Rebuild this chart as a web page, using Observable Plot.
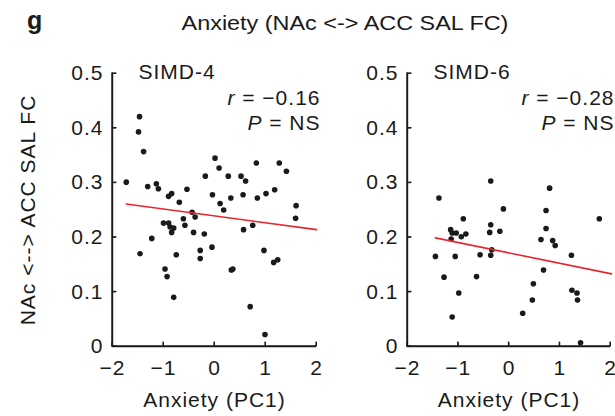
<!DOCTYPE html>
<html>
<head>
<meta charset="utf-8">
<script src="https://cdn.jsdelivr.net/npm/d3@7"></script>
<script src="https://cdn.jsdelivr.net/npm/@observablehq/plot@0.6"></script>
<style>
  html, body { margin: 0; background: #fff; }
  .abs { position: absolute; white-space: nowrap; font-family: "Liberation Sans", Arial, sans-serif; color: #1a1a1a; }
</style>
</head>
<body>
<div id="p2" class="abs" style="left:295px;top:0;width:320px;height:416px"></div>
<div id="p1" class="abs" style="left:0;top:0;width:330px;height:416px"></div>
<div class="abs" style="left:27px;top:6px;font-size:25px;font-weight:bold;">g</div>
<div class="abs" style="left:180px;width:330px;text-align:center;top:12px;font-size:20px;transform:scaleX(1.17);transform-origin:50% 50%;">Anxiety (NAc &lt;-&gt; ACC SAL FC)</div>
<script>
// ---- data ----
const panelNames = ["SIMD-4", "SIMD-6"];
const rValues = ["\u22120.16", "\u22120.28"];
const pValues = ["NS", "NS"];
const xTicks = [-2, -1, 0, 1, 2];
const yTicks = [0, 0.1, 0.2, 0.3, 0.4, 0.5];
const xLabel = "Anxiety (PC1)";
const yLabel = "NAc <--> ACC SAL FC";

const simd4X = [-1.47, -1.49, -1.39, -1.73, -1.31, -1.14, -1.10, -1.46, -1.23, -1.00,
  -0.90, -0.87, -0.84, -0.80, -0.90, -0.84, -0.69, -0.54, -0.97, -0.93,
  -0.80, -0.75, -0.61, -0.58, -0.44, -0.38, -0.41, -0.28, -0.28, -0.20,
  -0.18, -0.05, -0.04, 0.01, 0.09, 0.11, 0.18, 0.27, 0.32, 0.33,
  0.36, 0.52, 0.61, 0.56, 0.57, 0.75, 0.70, 0.82, 0.84, 0.97,
  0.99, 1.01, 1.18, 1.27, 1.16, 1.24, 1.41, 1.60, 1.59];
const simd4Y = [0.421, 0.393, 0.357, 0.301, 0.293, 0.298, 0.289, 0.170, 0.198, 0.226,
  0.226, 0.219, 0.209, 0.217, 0.275, 0.280, 0.264, 0.288, 0.142, 0.128,
  0.090, 0.168, 0.234, 0.222, 0.246, 0.237, 0.209, 0.176, 0.161, 0.206,
  0.312, 0.182, 0.278, 0.345, 0.327, 0.262, 0.250, 0.312, 0.272, 0.140,
  0.142, 0.312, 0.303, 0.278, 0.214, 0.222, 0.073, 0.336, 0.272, 0.176,
  0.022, 0.280, 0.287, 0.336, 0.154, 0.159, 0.321, 0.258, 0.235];
const fit4X = [-1.73, 2.0];
const fit4Y = [0.261, 0.214];

const simd6X = [-1.38, -1.45, -1.28, -1.15, -1.12, -1.14, -1.04, -0.94, -0.85, -0.90,
  -1.06, -0.99, -1.12, -0.64, -0.57, -0.36, -0.36, -0.38, -0.34, -0.36,
  -0.18, -0.11, 0.27, 0.46, 0.48, 0.63, 0.68, 0.73, 0.73, 0.80,
  0.86, 0.91, 1.23, 1.24, 1.34, 1.35, 1.41, 1.78];
const simd6Y = [0.272, 0.165, 0.127, 0.214, 0.208, 0.197, 0.208, 0.201, 0.206, 0.234,
  0.165, 0.098, 0.054, 0.128, 0.168, 0.303, 0.223, 0.209, 0.177, 0.167,
  0.211, 0.252, 0.061, 0.085, 0.115, 0.196, 0.140, 0.216, 0.249, 0.290,
  0.194, 0.185, 0.167, 0.103, 0.098, 0.085, 0.007, 0.234];
const fit6X = [-1.45, 2.02];
const fit6Y = [0.199, 0.133];

// ---- drawing ----
const fmt = d3.format("~g");
const INK = "#1a1a1a";
const xMin = xTicks[0], xMax = xTicks[xTicks.length - 1];
const yMin = yTicks[0], yMax = yTicks[yTicks.length - 1];

function panel(i, xs, ys, fx, fy, width, marginRight) {
  const idx = d3.range(xs.length);
  const fidx = d3.range(fx.length);
  const svg = Plot.plot({
    width: width,
    height: 416,
    marginLeft: 112,
    marginRight: marginRight,
    marginTop: 73,
    marginBottom: 70,
    x: {domain: [xMin, xMax]},
    y: {domain: [yMin, yMax]},
    marks: [
      // axis spines and inward ticks as thin filled rects
      Plot.rect([xMin], {x1: xMin, x2: xMax, y1: yMin, y2: yMin,
        insetTop: -0.7, insetBottom: -0.7, insetLeft: -0.7, insetRight: -0.7, fill: INK}),
      Plot.rect([yMin], {x1: xMin, x2: xMin, y1: yMin, y2: yMax,
        insetTop: -0.7, insetBottom: -0.7, insetLeft: -0.7, insetRight: -0.7, fill: INK}),
      Plot.rect(xTicks, {x1: d => d, x2: d => d, y1: yMin, y2: yMin,
        insetTop: -4.5, insetBottom: 0, insetLeft: -0.6, insetRight: -0.6, fill: INK}),
      Plot.rect(yTicks, {x1: xMin, x2: xMin, y1: d => d, y2: d => d,
        insetTop: -0.6, insetBottom: -0.6, insetLeft: 0, insetRight: -4.5, fill: INK}),
      Plot.ruleY([yMin], {stroke: INK, strokeWidth: 1.4}),
      Plot.ruleX([xMin], {stroke: INK, strokeWidth: 1.4}),
      Plot.axisX({ticks: xTicks, tickFormat: fmt, tickSize: -4, tickPadding: 18,
        label: xLabel, labelAnchor: "center", labelArrow: "none", labelOffset: 60, fontSize: 21}),
      Plot.axisY({ticks: yTicks, tickFormat: fmt, tickSize: -4, tickPadding: 13,
        label: i === 0 ? yLabel : null, labelAnchor: "center", labelArrow: "none", labelOffset: 92, fontSize: 21}),
      Plot.dot(idx, {x: j => xs[j], y: j => ys[j], r: 2.8, fill: INK, stroke: null}),
      Plot.line(fidx, {x: j => fx[j], y: j => fy[j], stroke: "#e8262e", strokeWidth: 1.6}),
      Plot.text([panelNames[i]], {frameAnchor: "top-left", lineAnchor: "middle", dx: 26, dy: -1, textAnchor: "start", fill: INK, fontSize: 21}),
      Plot.text(["r = " + rValues[i]], {frameAnchor: "top-right", lineAnchor: "middle", dx: 4, dy: 25, textAnchor: "end", fill: INK, fontSize: 21}),
      Plot.text(["P = " + pValues[i]], {frameAnchor: "top-right", lineAnchor: "middle", dx: 4, dy: 50, textAnchor: "end", fill: INK, fontSize: 21})
    ]
  });
  svg.setAttribute("font-family", "Liberation Sans, Arial, sans-serif");
  svg.setAttribute("font-size", "20");
  d3.select(svg).selectAll("text").attr("letter-spacing", "1");
  // italicize r and P
  d3.select(svg).selectAll("text").each(function() {
    const t = this.textContent;
    if (t.startsWith("r = ") || t.startsWith("P = ")) {
      const sel = d3.select(this);
      sel.text("");
      sel.append("tspan").attr("font-style", "italic").text(t[0]);
      sel.append("tspan").text(t.slice(1));
    }
  });
  return svg;
}

document.getElementById("p2").appendChild(panel(1, simd6X, simd6Y, fit6X, fit6Y, 320, 5));
document.getElementById("p1").appendChild(panel(0, simd4X, simd4Y, fit4X, fit4Y, 330, 14));
</script>
</body>
</html>
